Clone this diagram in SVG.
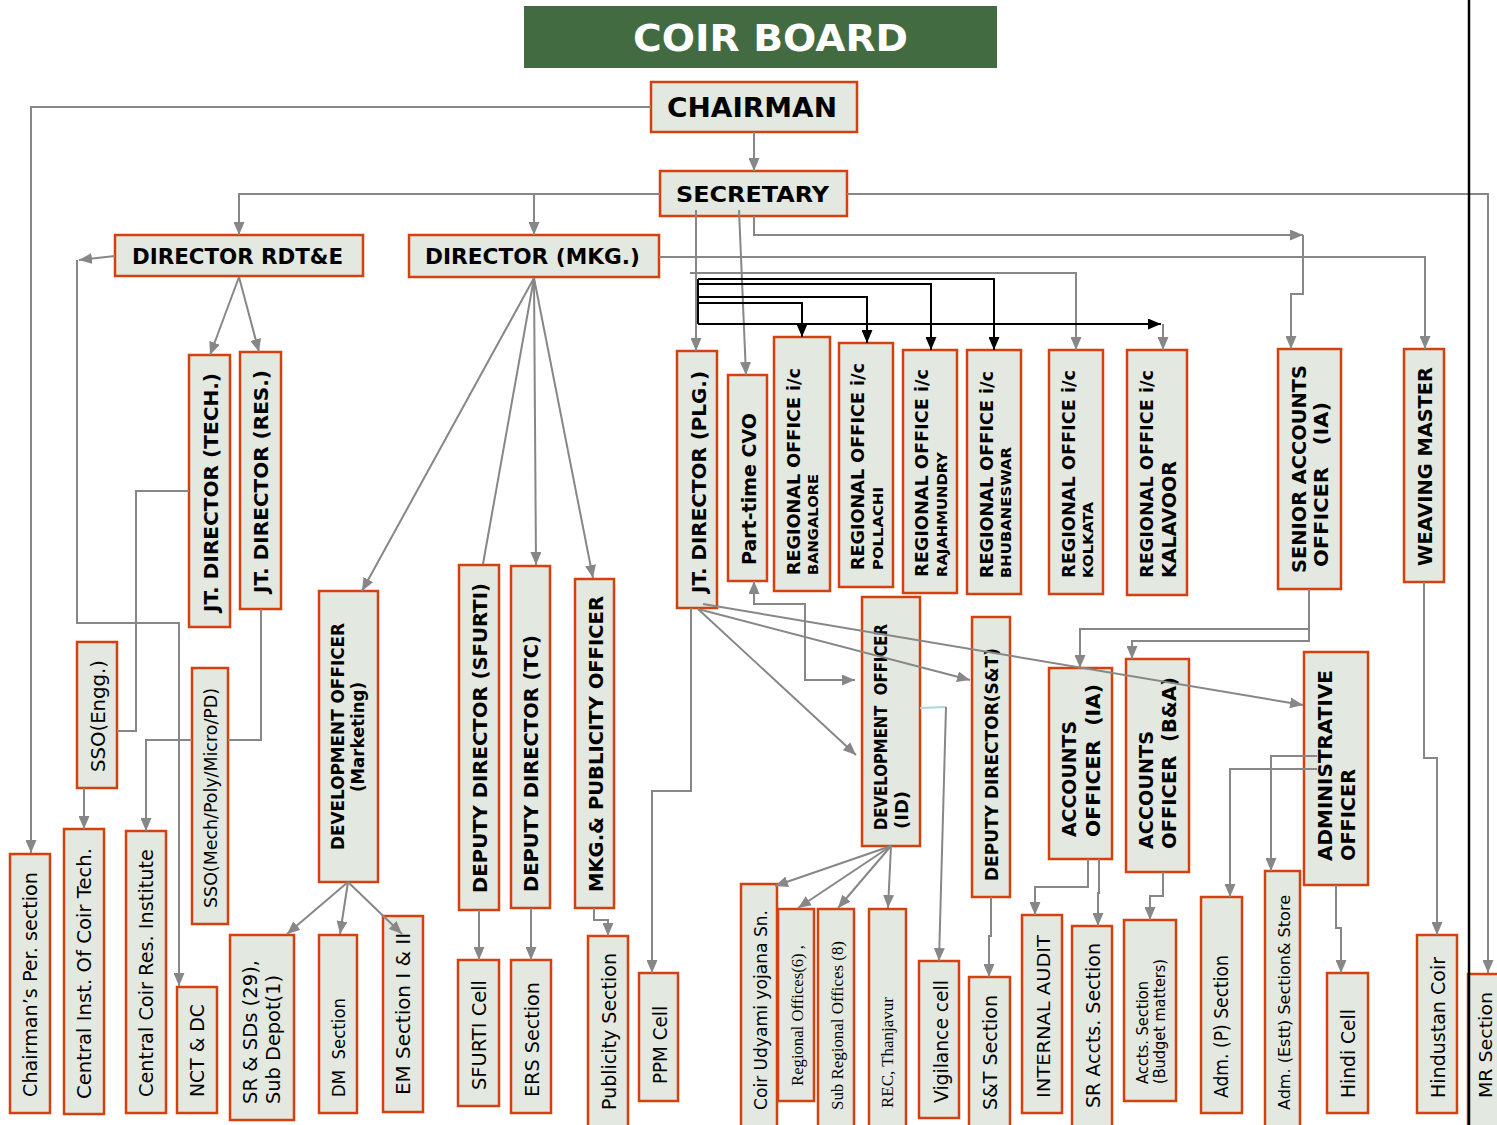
<svg xmlns="http://www.w3.org/2000/svg" width="1497" height="1125" viewBox="0 0 1497 1125">
<style>
.box{fill:#e3e8e1;stroke:#d4410f;stroke-width:2.5}
.b{font-family:"DejaVu Sans",Verdana,sans-serif;font-weight:bold;fill:#000;white-space:pre}
.r{font-family:"DejaVu Sans",Verdana,sans-serif;fill:#000;white-space:pre}
.s{font-family:"Liberation Serif","Times New Roman",serif;fill:#000;white-space:pre}
.c{fill:none;stroke:#878787;stroke-width:2}
.k{fill:none;stroke:#000;stroke-width:2}
</style>
<defs>
<marker id="ag" viewBox="0 0 13 11" refX="13" refY="5.5" markerWidth="13" markerHeight="11" markerUnits="userSpaceOnUse" orient="auto-start-reverse"><path d="M0,0 L13,5.5 L0,11 z" fill="#878787"/></marker>
<marker id="ak" viewBox="0 0 13 11" refX="13" refY="5.5" markerWidth="13" markerHeight="11" markerUnits="userSpaceOnUse" orient="auto"><path d="M0,0 L13,5.5 L0,11 z" fill="#000"/></marker>
</defs>
<rect width="1497" height="1125" fill="#fff"/>

<g id="nodes">
<g id="title"><rect x="524" y="6" width="473" height="62" fill="#436b41"/><text class="b" x="633" y="51" font-size="38" style="fill:#fff" textLength="275" lengthAdjust="spacingAndGlyphs">COIR BOARD</text></g>
<g id="chairman"><rect class="box" x="651" y="82" width="206" height="50"/><text class="b" x="667" y="117" font-size="26" textLength="170" lengthAdjust="spacingAndGlyphs">CHAIRMAN</text></g>
<g id="secretary"><rect class="box" x="660" y="171" width="187" height="45"/><text class="b" x="676" y="202" font-size="22" textLength="153" lengthAdjust="spacingAndGlyphs">SECRETARY</text></g>
<g id="dir-rdte"><rect class="box" x="115" y="235" width="248" height="41"/><text class="b" x="132" y="264" font-size="21" textLength="211" lengthAdjust="spacingAndGlyphs">DIRECTOR RDT&amp;E</text></g>
<g id="dir-mkg"><rect class="box" x="409" y="235" width="250" height="42"/><text class="b" x="425" y="264" font-size="21" textLength="215" lengthAdjust="spacingAndGlyphs">DIRECTOR (MKG.)</text></g>

<g id="jt-tech"><rect class="box" x="189" y="355" width="41" height="272"/><text class="b" font-size="20" transform="translate(218,612) rotate(-90)" textLength="239" lengthAdjust="spacingAndGlyphs">JT. DIRECTOR (TECH.)</text></g>
<g id="jt-res"><rect class="box" x="240" y="352" width="41" height="257"/><text class="b" font-size="20" transform="translate(268,593) rotate(-90)" textLength="223" lengthAdjust="spacingAndGlyphs">JT. DIRECTOR (RES.)</text></g>
<g id="sso-engg"><rect class="box" x="77" y="642" width="40" height="146"/><text class="r" font-size="19" transform="translate(105,772) rotate(-90)" textLength="112" lengthAdjust="spacingAndGlyphs">SSO(Engg.)</text></g>
<g id="chair-per"><rect class="box" x="10" y="854" width="40" height="259"/><text class="r" font-size="19" transform="translate(37,1097) rotate(-90)" textLength="225" lengthAdjust="spacingAndGlyphs">Chairman’s Per. section</text></g>
<g id="cict"><rect class="box" x="64" y="829" width="40" height="285"/><text class="r" font-size="19" transform="translate(91,1099) rotate(-90)" textLength="251" lengthAdjust="spacingAndGlyphs">Central Inst. Of Coir Tech.</text></g>
<g id="ccri"><rect class="box" x="126" y="831" width="40" height="282"/><text class="r" font-size="19" transform="translate(153,1097) rotate(-90)" textLength="248" lengthAdjust="spacingAndGlyphs">Central Coir Res. Institute</text></g>
<g id="sso-mech"><rect class="box" x="192" y="668" width="36" height="256"/><text class="r" font-size="17" transform="translate(217,908) rotate(-90)" textLength="220" lengthAdjust="spacingAndGlyphs">SSO(Mech/Poly/Micro/PD)</text></g>
<g id="nct"><rect class="box" x="177" y="987" width="40" height="126"/><text class="r" font-size="19" transform="translate(204,1097) rotate(-90)" textLength="93" lengthAdjust="spacingAndGlyphs">NCT &amp; DC</text></g>
<g id="srsd"><rect class="box" x="230" y="935" width="64" height="185"/><text class="r" font-size="19" transform="translate(257,1104) rotate(-90)" textLength="144" lengthAdjust="spacingAndGlyphs">SR &amp; SDs (29),</text><text class="r" font-size="19" transform="translate(280,1104) rotate(-90)" textLength="129" lengthAdjust="spacingAndGlyphs">Sub Depot(1)</text></g>
<g id="dm"><rect class="box" x="319" y="935" width="38" height="178"/><text class="r" font-size="18" transform="translate(345,1097) rotate(-90)" textLength="99" lengthAdjust="spacingAndGlyphs">DM  Section</text></g>
<g id="em"><rect class="box" x="383" y="916" width="40" height="196"/><text class="r" font-size="19" transform="translate(410,1095) rotate(-90)" textLength="162" lengthAdjust="spacingAndGlyphs">EM Section I &amp; II</text></g>
<g id="dev-mkt"><rect class="box" x="319" y="591" width="59" height="291"/><text class="b" font-size="17" text-anchor="middle" transform="translate(344,736.5) rotate(-90)" textLength="227" lengthAdjust="spacingAndGlyphs">DEVELOPMENT OFFICER</text><text class="b" font-size="17" text-anchor="middle" transform="translate(364,737) rotate(-90)" textLength="110" lengthAdjust="spacingAndGlyphs">(Marketing)</text></g>
<g id="dd-sfurti"><rect class="box" x="459" y="565" width="40" height="345"/><text class="b" font-size="20" transform="translate(487,893) rotate(-90)" textLength="310" lengthAdjust="spacingAndGlyphs">DEPUTY DIRECTOR (SFURTI)</text></g>
<g id="dd-tc"><rect class="box" x="511" y="566" width="39" height="342"/><text class="b" font-size="20" transform="translate(538,892) rotate(-90)" textLength="257" lengthAdjust="spacingAndGlyphs">DEPUTY DIRECTOR (TC)</text></g>
<g id="mkg-pub"><rect class="box" x="575" y="579" width="39" height="329"/><text class="b" font-size="20" transform="translate(603,892) rotate(-90)" textLength="296" lengthAdjust="spacingAndGlyphs">MKG.&amp; PUBLICITY OFFICER</text></g>
<g id="sfurti-cell"><rect class="box" x="458" y="960" width="41" height="146"/><text class="r" font-size="19" transform="translate(486,1090) rotate(-90)" textLength="110" lengthAdjust="spacingAndGlyphs">SFURTI Cell</text></g>
<g id="ers"><rect class="box" x="511" y="960" width="40" height="153"/><text class="r" font-size="19" transform="translate(539,1097) rotate(-90)" textLength="115" lengthAdjust="spacingAndGlyphs">ERS Section</text></g>
<g id="pub-sec"><rect class="box" x="588" y="936" width="40" height="200"/><text class="r" font-size="19" transform="translate(616,1110) rotate(-90)" textLength="157" lengthAdjust="spacingAndGlyphs">Publicity Section</text></g>
<g id="ppm"><rect class="box" x="639" y="973" width="39" height="128"/><text class="r" font-size="19" transform="translate(667,1084) rotate(-90)" textLength="78" lengthAdjust="spacingAndGlyphs">PPM Cell</text></g>

<g id="jt-plg"><rect class="box" x="677" y="351" width="40" height="257"/><text class="b" font-size="20" transform="translate(706,593) rotate(-90)" textLength="222" lengthAdjust="spacingAndGlyphs">JT. DIRECTOR (PLG.)</text></g>
<g id="cvo"><rect class="box" x="728" y="375" width="39" height="206"/><text class="b" font-size="19" transform="translate(756,565) rotate(-90)" textLength="152" lengthAdjust="spacingAndGlyphs">Part-time CVO</text></g>
<g id="ro-blr"><rect class="box" x="774" y="337" width="56" height="254"/><text class="b" font-size="17" transform="translate(800,575) rotate(-90)" textLength="207" lengthAdjust="spacingAndGlyphs">REGIONAL OFFICE i/c</text><text class="b" font-size="14" transform="translate(818,575) rotate(-90)" textLength="101" lengthAdjust="spacingAndGlyphs">BANGALORE</text></g>
<g id="ro-pol"><rect class="box" x="839" y="343" width="54" height="244"/><text class="b" font-size="17" transform="translate(864,570) rotate(-90)" textLength="207" lengthAdjust="spacingAndGlyphs">REGIONAL OFFICE i/c</text><text class="b" font-size="14" transform="translate(883,570) rotate(-90)" textLength="83" lengthAdjust="spacingAndGlyphs">POLLACHI</text></g>
<g id="ro-raj"><rect class="box" x="903" y="350" width="54" height="243"/><text class="b" font-size="17" transform="translate(928,577) rotate(-90)" textLength="208" lengthAdjust="spacingAndGlyphs">REGIONAL OFFICE i/c</text><text class="b" font-size="14" transform="translate(947,577) rotate(-90)" textLength="125" lengthAdjust="spacingAndGlyphs">RAJAHMUNDRY</text></g>
<g id="ro-bhu"><rect class="box" x="967" y="350" width="54" height="244"/><text class="b" font-size="17" transform="translate(993,578) rotate(-90)" textLength="207" lengthAdjust="spacingAndGlyphs">REGIONAL OFFICE i/c</text><text class="b" font-size="14" transform="translate(1011,578) rotate(-90)" textLength="131" lengthAdjust="spacingAndGlyphs">BHUBANESWAR</text></g>
<g id="ro-kol"><rect class="box" x="1049" y="350" width="54" height="244"/><text class="b" font-size="17" transform="translate(1075,578) rotate(-90)" textLength="208" lengthAdjust="spacingAndGlyphs">REGIONAL OFFICE i/c</text><text class="b" font-size="14" transform="translate(1093,578) rotate(-90)" textLength="76" lengthAdjust="spacingAndGlyphs">KOLKATA</text></g>
<g id="ro-kal"><rect class="box" x="1127" y="350" width="60" height="245"/><text class="b" font-size="17" transform="translate(1153,578) rotate(-90)" textLength="208" lengthAdjust="spacingAndGlyphs">REGIONAL OFFICE i/c</text><text class="b" font-size="20" transform="translate(1176,578) rotate(-90)" textLength="117" lengthAdjust="spacingAndGlyphs">KALAVOOR</text></g>
<g id="sao"><rect class="box" x="1278" y="349" width="63" height="240"/><text class="b" font-size="19" transform="translate(1306,573) rotate(-90)" textLength="208" lengthAdjust="spacingAndGlyphs">SENIOR ACCOUNTS</text><text class="b" font-size="19" transform="translate(1328,567) rotate(-90)" textLength="165" lengthAdjust="spacingAndGlyphs">OFFICER   (IA)</text></g>
<g id="weaving"><rect class="box" x="1404" y="349" width="40" height="233"/><text class="b" font-size="19" transform="translate(1432,566) rotate(-90)" textLength="199" lengthAdjust="spacingAndGlyphs">WEAVING MASTER</text></g>

<g id="dev-id"><rect class="box" x="862" y="597" width="58" height="249"/><text class="b" font-size="17" transform="translate(887,830) rotate(-90)" textLength="206" lengthAdjust="spacingAndGlyphs">DEVELOPMENT  OFFICER</text><text class="b" font-size="17" transform="translate(908,829) rotate(-90)" textLength="38" lengthAdjust="spacingAndGlyphs">(ID)</text></g>
<g id="dd-st"><rect class="box" x="972" y="617" width="38" height="280"/><text class="b" font-size="18" transform="translate(998,881) rotate(-90)" textLength="233" lengthAdjust="spacingAndGlyphs">DEPUTY DIRECTOR(S&amp;T)</text></g>
<g id="cuy"><rect class="box" x="741" y="884" width="36" height="250"/><text class="r" font-size="18" transform="translate(767,1110) rotate(-90)" textLength="200" lengthAdjust="spacingAndGlyphs">Coir Udyami yojana Sn.</text></g>
<g id="ro6"><rect class="box" x="778" y="909" width="36" height="192"/><text class="s" font-size="17" transform="translate(803,1086) rotate(-90)" textLength="141" lengthAdjust="spacingAndGlyphs">Regional Offices(6) ,</text></g>
<g id="sro"><rect class="box" x="818" y="909" width="36" height="225"/><text class="s" font-size="16" transform="translate(843,1110) rotate(-90)" textLength="169" lengthAdjust="spacingAndGlyphs">Sub Regional Offices (8)</text></g>
<g id="rec"><rect class="box" x="869" y="909" width="37" height="225"/><text class="s" font-size="16" transform="translate(893,1108) rotate(-90)" textLength="111" lengthAdjust="spacingAndGlyphs">REC, Thanjavur</text></g>
<g id="vig"><rect class="box" x="919" y="961" width="40" height="157"/><text class="r" font-size="19" transform="translate(948,1103) rotate(-90)" textLength="123" lengthAdjust="spacingAndGlyphs">Vigilance cell</text></g>
<g id="st-sec"><rect class="box" x="969" y="977" width="41" height="157"/><text class="r" font-size="19" transform="translate(997,1110) rotate(-90)" textLength="115" lengthAdjust="spacingAndGlyphs">S&amp;T Section</text></g>
<g id="ia"><rect class="box" x="1022" y="915" width="40" height="198"/><text class="r" font-size="18" transform="translate(1050,1098) rotate(-90)" textLength="163" lengthAdjust="spacingAndGlyphs">INTERNAL AUDIT</text></g>
<g id="ao-ia"><rect class="box" x="1049" y="668" width="63" height="191"/><text class="b" font-size="19" transform="translate(1076,837) rotate(-90)" textLength="116" lengthAdjust="spacingAndGlyphs">ACCOUNTS</text><text class="b" font-size="19" transform="translate(1100,837) rotate(-90)" textLength="153" lengthAdjust="spacingAndGlyphs">OFFICER  (IA)</text></g>
<g id="ao-ba"><rect class="box" x="1126" y="659" width="63" height="213"/><text class="b" font-size="19" transform="translate(1153,849) rotate(-90)" textLength="118" lengthAdjust="spacingAndGlyphs">ACCOUNTS</text><text class="b" font-size="19" transform="translate(1176,849) rotate(-90)" textLength="172" lengthAdjust="spacingAndGlyphs">OFFICER  (B&amp;A)</text></g>
<g id="admin"><rect class="box" x="1304" y="652" width="64" height="233"/><text class="b" font-size="19" transform="translate(1332,861) rotate(-90)" textLength="191" lengthAdjust="spacingAndGlyphs">ADMINISTRATIVE</text><text class="b" font-size="19" transform="translate(1355,861) rotate(-90)" textLength="92" lengthAdjust="spacingAndGlyphs">OFFICER</text></g>
<g id="sr-accts"><rect class="box" x="1072" y="926" width="40" height="208"/><text class="r" font-size="19" transform="translate(1100,1108) rotate(-90)" textLength="165" lengthAdjust="spacingAndGlyphs">SR Accts. Section</text></g>
<g id="accts-sec"><rect class="box" x="1124" y="920" width="52" height="181"/><text class="r" font-size="15" transform="translate(1148,1084) rotate(-90)" textLength="103" lengthAdjust="spacingAndGlyphs">Accts. Section</text><text class="r" font-size="15" transform="translate(1165,1084) rotate(-90)" textLength="125" lengthAdjust="spacingAndGlyphs">(Budget matters)</text></g>
<g id="adm-p"><rect class="box" x="1201" y="897" width="41" height="216"/><text class="r" font-size="19" transform="translate(1228,1098) rotate(-90)" textLength="143" lengthAdjust="spacingAndGlyphs">Adm. (P) Section</text></g>
<g id="adm-estt"><rect class="box" x="1265" y="871" width="35" height="263"/><text class="r" font-size="16" transform="translate(1290,1110) rotate(-90)" textLength="215" lengthAdjust="spacingAndGlyphs">Adm. (Estt) Section&amp; Store</text></g>
<g id="hindi"><rect class="box" x="1327" y="973" width="41" height="140"/><text class="r" font-size="19" transform="translate(1355,1098) rotate(-90)" textLength="89" lengthAdjust="spacingAndGlyphs">Hindi Cell</text></g>
<g id="hcoir"><rect class="box" x="1417" y="935" width="40" height="178"/><text class="r" font-size="19" transform="translate(1445,1098) rotate(-90)" textLength="141" lengthAdjust="spacingAndGlyphs">Hindustan Coir</text></g>
<g id="mr"><rect class="box" x="1468" y="974" width="40" height="160"/><text class="r" font-size="18" transform="translate(1492,1098) rotate(-90)" textLength="106" lengthAdjust="spacingAndGlyphs">MR Section</text></g>
</g>

<g id="connectors">
<path class="c" d="M651,107 H31 V853" marker-end="url(#ag)"/>
<path class="c" d="M754,132 V171" marker-end="url(#ag)"/>
<path class="c" d="M660,194 H239 V235" marker-end="url(#ag)"/>
<path class="c" d="M534,194 V235" marker-end="url(#ag)"/>
<path class="c" d="M847,194 H1488 V973" marker-end="url(#ag)"/>
<path class="c" d="M754,216 V235 H1303" marker-end="url(#ag)"/>
<path class="c" d="M1303,235 V294 H1291 V349" marker-end="url(#ag)"/>
<path class="c" d="M659,257 H1425 V349" marker-end="url(#ag)"/>
<path class="c" d="M696,210 V351" marker-end="url(#ag)"/>
<path class="c" d="M739,210 L746,375" marker-end="url(#ag)"/>
<path class="c" d="M690,273 H1076 V350" marker-end="url(#ag)"/>
<path class="k" d="M698,279 V324"/>
<path class="k" d="M698,279 H994 V350" marker-end="url(#ak)"/>
<path class="k" d="M698,284 H931 V350" marker-end="url(#ak)"/>
<path class="k" d="M698,297 H867 V343" marker-end="url(#ak)"/>
<path class="k" d="M698,303 H802 V337" marker-end="url(#ak)"/>
<path class="k" d="M698,324 H1161" marker-end="url(#ak)"/>
<path class="c" d="M1163,324 V350" marker-end="url(#ag)"/>

<path class="c" d="M115,256 L79,260" marker-end="url(#ag)"/>
<path class="c" d="M77,260 V623 H179 V986" marker-end="url(#ag)"/>
<path class="c" d="M239,277 L210,355" marker-end="url(#ag)"/>
<path class="c" d="M239,277 L259,352" marker-end="url(#ag)"/>
<path class="c" d="M189,491 H136 V731 H117"/>
<path class="c" d="M84,788 V829" marker-end="url(#ag)"/>
<path class="c" d="M261,609 V740 H228"/>
<path class="c" d="M192,740 H146 V831" marker-end="url(#ag)"/>
<path class="c" d="M534,278 L362,591" marker-end="url(#ag)"/>
<path class="c" d="M534,278 L483,564"/>
<path class="c" d="M534,278 L536,565" marker-end="url(#ag)"/>
<path class="c" d="M534,278 L593,578" marker-end="url(#ag)"/>
<path class="c" d="M348,882 L287,934" marker-end="url(#ag)"/>
<path class="c" d="M348,882 L340,934" marker-end="url(#ag)"/>
<path class="c" d="M348,882 L402,934" marker-end="url(#ag)"/>
<path class="c" d="M479,910 V960" marker-end="url(#ag)"/>
<path class="c" d="M531,908 V960" marker-end="url(#ag)"/>
<path class="c" d="M594,908 V920 H608 V936" marker-end="url(#ag)"/>
<path class="c" d="M691,608 V791 H652 V973" marker-end="url(#ag)"/>

<path class="c" d="M754,581 V604 H805 V680 H855" marker-start="url(#ag)" marker-end="url(#ag)"/>
<path class="c" d="M698,609 L856,755" marker-end="url(#ag)"/>
<path class="c" d="M698,609 L970,680" marker-end="url(#ag)"/>
<path class="c" d="M703,604 L1303,705" marker-end="url(#ag)"/>
<path fill="none" stroke="#a9d7de" stroke-width="2" d="M920,708 L946,707"/>
<path class="c" d="M946,707 L939,961" marker-end="url(#ag)"/>
<path class="c" d="M891,846 L775,886" marker-end="url(#ag)"/>
<path class="c" d="M891,846 L798,908" marker-end="url(#ag)"/>
<path class="c" d="M891,846 L838,908" marker-end="url(#ag)"/>
<path class="c" d="M891,846 L888,908" marker-end="url(#ag)"/>
<path class="c" d="M991,897 V936 H989 V977" marker-end="url(#ag)"/>
<path class="c" d="M1309,589 V629 H1080 V668" marker-end="url(#ag)"/>
<path class="c" d="M1309,629 V641 H1132 V659" marker-end="url(#ag)"/>
<path class="c" d="M1088,859 V887 H1035 V915" marker-end="url(#ag)"/>
<path class="c" d="M1099,859 V893 H1098 V926" marker-end="url(#ag)"/>
<path class="c" d="M1163,872 V896 H1150 V920" marker-end="url(#ag)"/>
<path class="c" d="M1317,756 H1271 V871" marker-end="url(#ag)"/>
<path class="c" d="M1317,769 H1230 V897" marker-end="url(#ag)"/>
<path class="c" d="M1336,885 V928 H1341 V973" marker-end="url(#ag)"/>
<path class="c" d="M1424,582 V758 H1437 V935" marker-end="url(#ag)"/>
<path fill="none" stroke="#000" stroke-width="2.5" d="M1469,0 V1125"/>
</g>
</svg>
